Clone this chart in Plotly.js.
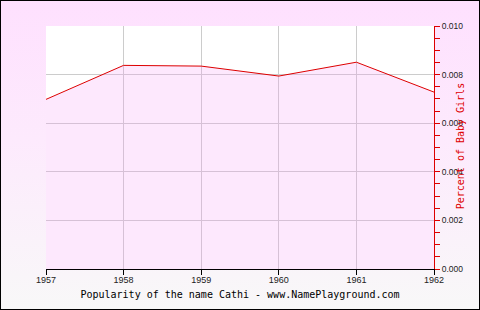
<!DOCTYPE html>
<html>
<head>
<meta charset="utf-8">
<script src="https://cdn.plot.ly/plotly-3.0.1.min.js"></script>
<style>
html,body{margin:0;padding:0;}
#wrap{position:relative;width:480px;height:310px;background:linear-gradient(to bottom,#fee0fe 0%,#fdeafd 45%,#f8f8f8 100%);}
#chart{position:absolute;left:0;top:0;width:480px;height:310px;}
#border{position:absolute;left:0;top:0;width:478px;height:308px;border:1px solid #000;pointer-events:none;}
</style>
</head>
<body>
<div id="wrap"><div id="chart"></div><div id="border"></div></div>
<script>
const years = [1957, 1958, 1959, 1960, 1961, 1962];
const percent = [0.00698, 0.00838, 0.00835, 0.00794, 0.00851, 0.00728];
const yTicks = [0, 0.002, 0.004, 0.006, 0.008, 0.010];
const titleText = "Popularity of the name Cathi - www.NamePlayground.com";
const yTitle = "Percent of Baby Girls";

Plotly.newPlot('chart', [{
  x: years,
  y: percent,
  type: 'scatter',
  mode: 'lines',
  line: {color: '#dd0000', width: 1},
  fill: 'tozeroy',
  fillcolor: 'rgba(245,160,245,0.24)',
  hoverinfo: 'skip'
}], {
  width: 480, height: 310,
  margin: {l: 46, r: 46, t: 26, b: 41, pad: 0},
  paper_bgcolor: 'rgba(0,0,0,0)',
  plot_bgcolor: '#ffffff',
  showlegend: false,
  title: {
    text: titleText,
    font: {family: 'DejaVu Sans Mono', size: 10, color: '#000'},
    x: 0.5, xanchor: 'center',
    y: 16/310, yref: 'container', yanchor: 'middle'
  },
  annotations: [{
    text: yTitle, xref: 'paper', yref: 'paper',
    x: 1 + 26/388, y: 0.505, xanchor: 'center', yanchor: 'middle',
    textangle: -90, showarrow: false,
    font: {family: 'DejaVu Sans Mono', size: 10, color: '#dd0000'}
  }],
  xaxis: {
    range: [1957, 1962],
    tickvals: years,
    ticktext: years.map(String),
    showgrid: true, gridcolor: '#cccccc', gridwidth: 1,
    showline: true, linecolor: '#000', linewidth: 1,
    ticks: 'outside', ticklen: 5, tickcolor: '#000',
    ticklabelstandoff: -3,
    tickfont: {family: 'Liberation Sans', size: 9, color: '#222'},
    zeroline: false, fixedrange: true
  },
  yaxis: {
    side: 'right',
    range: [0, 0.010],
    tickvals: yTicks,
    tickformat: '.3f',
    showgrid: true, gridcolor: '#cccccc', gridwidth: 1,
    showline: true, linecolor: '#dd0000', linewidth: 1,
    ticks: 'outside', ticklen: 5, tickcolor: '#dd0000',
    minor: {dtick: 0.0005, ticks: 'outside', ticklen: 5, tickcolor: '#dd0000', showgrid: false},
    tickfont: {family: 'Liberation Sans', size: 8.5, color: '#222'},
    zeroline: false, fixedrange: true
  }
}, {displayModeBar: false, staticPlot: true});
</script>
</body>
</html>
